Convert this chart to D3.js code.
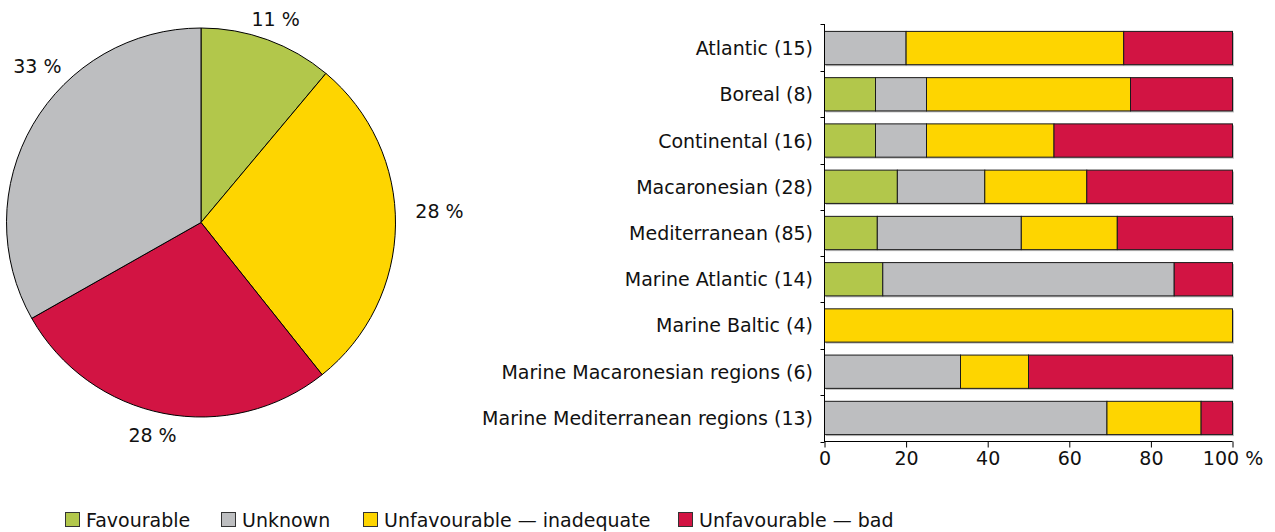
<!DOCTYPE html>
<html>
<head>
<meta charset="utf-8">
<script src="https://cdn.jsdelivr.net/npm/d3@7"></script>
<style>
  html, body { margin: 0; padding: 0; background: #fff; }
  svg { display: block; font-family: "DejaVu Sans", Verdana, sans-serif; }
</style>
</head>
<body>
<svg id="chart" width="1275" height="532"></svg>
<script>
// ---- data ----
const categories = [
  "Atlantic (15)", "Boreal (8)", "Continental (16)", "Macaronesian (28)",
  "Mediterranean (85)", "Marine Atlantic (14)", "Marine Baltic (4)",
  "Marine Macaronesian regions (6)", "Marine Mediterranean regions (13)"
];
const seriesNames = ["Favourable", "Unknown", "Unfavourable \u2014 inadequate", "Unfavourable \u2014 bad"];
const favourable = [0, 1, 2, 5, 11, 2, 0, 0, 0];
const unknown    = [3, 1, 2, 6, 30, 10, 0, 2, 9];
const inadequate = [8, 4, 5, 7, 20, 0, 4, 1, 3];
const bad        = [4, 2, 7, 10, 24, 2, 0, 3, 1];
// pie, clockwise from top
const pieNames  = ["Favourable", "Unfavourable \u2014 inadequate", "Unfavourable \u2014 bad", "Unknown"];
const pieValues = [11.1, 28.2, 27.5, 33.2];
const xTicks = [0, 20, 40, 60, 80, 100];

// ---- styles ----
const colors = {
  "Favourable": "#b2c74b",
  "Unknown": "#bdbec0",
  "Unfavourable \u2014 inadequate": "#fed500",
  "Unfavourable \u2014 bad": "#d21443"
};
const FONT = 19;

const svg = d3.select("#chart");

// ---- pie ----
const cx = 201, cy = 222.5, R = 194.5;
const pie = d3.pie().sort(null).value(d => d.v);
const pieData = pie(pieNames.map((n, i) => ({ n, v: pieValues[i] })));
const arc = d3.arc().innerRadius(0).outerRadius(R);
const gPie = svg.append("g").attr("transform", `translate(${cx},${cy})`);
gPie.selectAll("path").data(pieData).enter().append("path")
  .attr("d", arc)
  .attr("fill", d => colors[d.data.n])
  .attr("stroke", "#000")
  .attr("stroke-width", 1);
// label nudges (layout only)
const labelNudge = [[2, -4], [26, -14], [-8, 4], [20, -49]];
const labelArc = d3.arc().innerRadius(R + 18).outerRadius(R + 18);
gPie.selectAll("text").data(pieData).enter().append("text")
  .attr("x", (d, i) => labelArc.centroid(d)[0] + labelNudge[i][0])
  .attr("y", (d, i) => labelArc.centroid(d)[1] + labelNudge[i][1])
  .attr("text-anchor", "middle")
  .attr("dominant-baseline", "central")
  .attr("font-size", FONT)
  .attr("fill", "#111")
  .text(d => Math.round(d.data.v) + " %");

// ---- stacked bars ----
const x = d3.scaleLinear().domain([0, 100]).range([824.5, 1232.5]);
const y = d3.scaleBand().domain(categories).range([24, 442]).paddingInner(0.28).paddingOuter(0.16);
const rows = categories.map((c, i) => {
  const vals = [favourable[i], unknown[i], inadequate[i], bad[i]];
  const total = d3.sum(vals);
  let acc = 0;
  const segs = vals.map((v, k) => {
    const s = { name: seriesNames[k], x0: acc / total * 100, x1: (acc + v) / total * 100, v };
    acc += v;
    return s;
  }).filter(s => s.v > 0);
  return { c, segs };
});

const gBars = svg.append("g");
// soft shadow behind each bar
gBars.selectAll("rect.shadow").data(rows).enter().append("rect")
  .attr("class", "shadow")
  .attr("x", x(0) + 1.5)
  .attr("y", d => y(d.c) + 1.5)
  .attr("width", x(100) - x(0))
  .attr("height", y.bandwidth())
  .attr("fill", "#8a8a8a")
  .attr("opacity", 0.55);
const rowG = gBars.selectAll("g.row").data(rows).enter().append("g").attr("class", "row");
rowG.selectAll("rect").data(d => d.segs.map(s => ({ ...s, c: d.c }))).enter().append("rect")
  .attr("x", d => x(d.x0))
  .attr("y", d => y(d.c))
  .attr("width", d => x(d.x1) - x(d.x0))
  .attr("height", y.bandwidth())
  .attr("fill", d => colors[d.name])
  .attr("stroke", "#1a1a1a")
  .attr("stroke-width", 1);

// category labels
svg.append("g").selectAll("text").data(categories).enter().append("text")
  .attr("x", 813)
  .attr("y", d => y(d) + y.bandwidth() / 2)
  .attr("text-anchor", "end")
  .attr("dominant-baseline", "central")
  .attr("font-size", FONT)
  .attr("fill", "#111")
  .text(d => d);

// y axis line + ticks at band boundaries
const gy = svg.append("g").attr("stroke", "#000").attr("stroke-width", 1);
gy.append("line").attr("x1", x(0)).attr("x2", x(0)).attr("y1", 24).attr("y2", 442);
const boundaries = categories.map(c => y(c) - y.step() * y.paddingInner() / 2);
boundaries.push(442);
boundaries[0] = 24;
gy.selectAll("line.t").data(boundaries).enter().append("line")
  .attr("class", "t")
  .attr("x1", x(0) - 4).attr("x2", x(0))
  .attr("y1", d => Math.round(d) + 0.5).attr("y2", d => Math.round(d) + 0.5);

// x axis
const xAxis = d3.axisBottom(x).tickValues(xTicks).tickSize(6).tickPadding(4)
  .tickFormat(d => d === 100 ? "100 %" : d);
const gx = svg.append("g").attr("transform", "translate(0,441.5)").call(xAxis);
gx.select(".domain").attr("stroke", "#000").attr("d", `M${x(0)},0H${x(100)}`);
gx.selectAll(".tick line").attr("stroke", "#000");
gx.selectAll(".tick text").attr("font-size", FONT).attr("fill", "#111")
  .attr("font-family", "DejaVu Sans, Verdana, sans-serif");

// ---- legend ----
const legendX = [65, 221, 363, 678];
const legend = svg.append("g");
const li = legend.selectAll("g").data(seriesNames).enter().append("g")
  .attr("transform", (d, i) => `translate(${legendX[i]},512)`);
li.append("rect").attr("x", 0.5).attr("y", 0.5).attr("width", 14).attr("height", 14)
  .attr("fill", d => colors[d]).attr("stroke", "#333").attr("stroke-width", 1);
li.append("text").attr("x", 21).attr("y", 7.5)
  .attr("dominant-baseline", "central")
  .attr("font-size", FONT).attr("fill", "#111")
  .text(d => d);
</script>
</body>
</html>
